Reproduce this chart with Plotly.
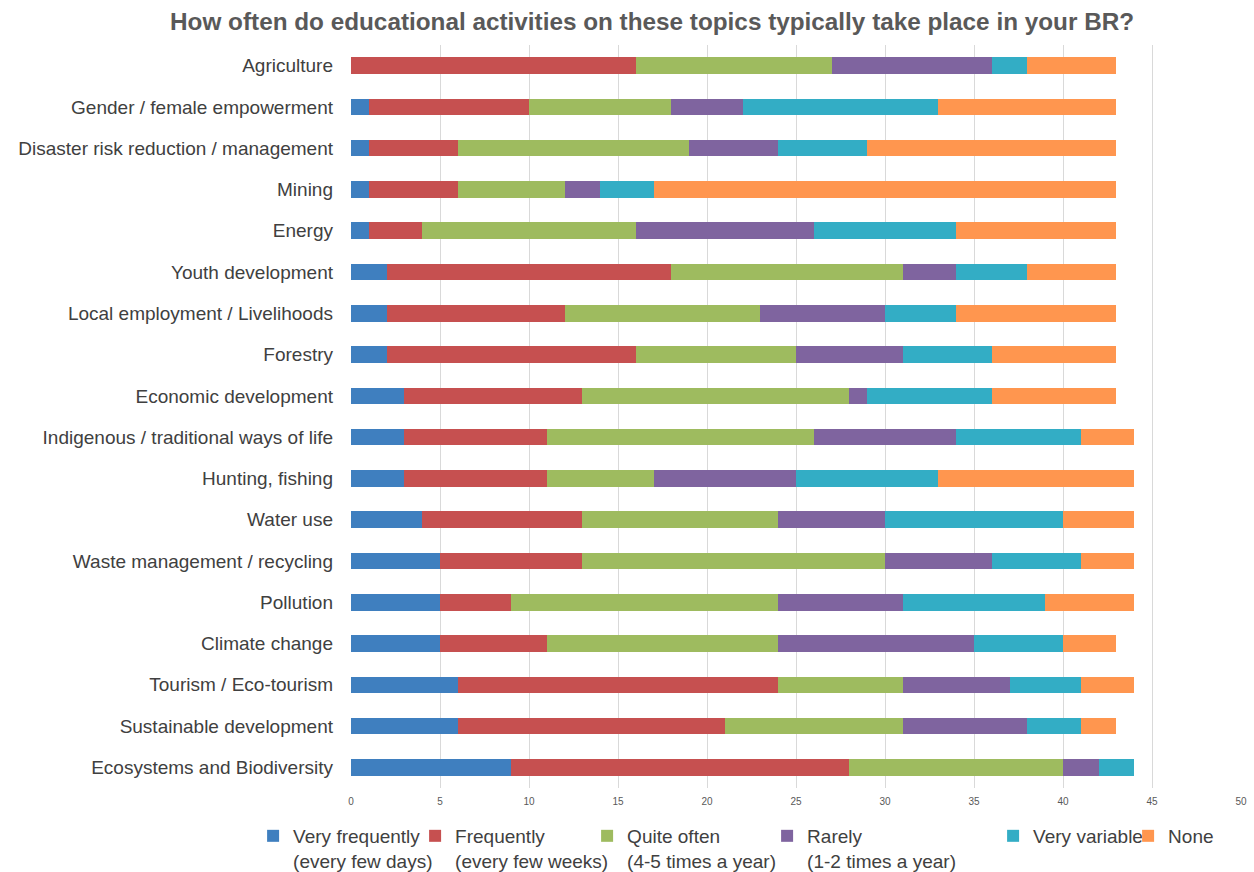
import plotly.graph_objects as go

categories = [
    "Agriculture", "Gender / female empowerment", "Disaster risk reduction / management",
    "Mining", "Energy", "Youth development", "Local employment / Livelihoods", "Forestry",
    "Economic development", "Indigenous / traditional ways of life", "Hunting, fishing",
    "Water use", "Waste management / recycling", "Pollution", "Climate change",
    "Tourism / Eco-tourism", "Sustainable development", "Ecosystems and Biodiversity",
]

very_frequently = [0, 1, 1, 1, 1, 2, 2, 2, 3, 3, 3, 4, 5, 5, 5, 6, 6, 9]
frequently      = [16, 9, 5, 5, 3, 16, 10, 14, 10, 8, 8, 9, 8, 4, 6, 18, 15, 19]
quite_often     = [11, 8, 13, 6, 12, 13, 11, 9, 15, 15, 6, 11, 17, 15, 13, 7, 10, 12]
rarely          = [9, 4, 5, 2, 10, 3, 7, 6, 1, 8, 8, 6, 6, 7, 11, 6, 7, 2]
very_variable   = [2, 11, 5, 3, 8, 4, 4, 5, 7, 7, 8, 10, 5, 8, 5, 4, 3, 2]
none            = [5, 10, 14, 26, 9, 5, 9, 7, 7, 3, 11, 4, 3, 5, 3, 3, 2, 0]

series_names = [
    "Very frequently<br>(every few days)",
    "Frequently<br>(every few weeks)",
    "Quite often<br>(4-5 times a year)",
    "Rarely<br>(1-2 times a year)",
    "Very variable",
    "None",
]
series_values = [very_frequently, frequently, quite_often, rarely, very_variable, none]
colors = ["#3F7FBF", "#C65050", "#9EBB5F", "#7F649F", "#33ADC5", "#FF964F"]
legend_widths = [117, 127, 135, 181, 90, 50]

fig = go.Figure()
for name, vals, col, lw in zip(series_names, series_values, colors, legend_widths):
    fig.add_trace(go.Bar(
        y=categories, x=vals, name=name, orientation="h",
        marker=dict(color=col, line=dict(width=0)),
        legendwidth=lw,
    ))

fig.update_layout(
    barmode="stack",
    bargap=0.6,
    width=1254, height=872,
    paper_bgcolor="white", plot_bgcolor="white",
    margin=dict(l=351, r=13, t=45, b=84, autoexpand=False),
    font=dict(family="Liberation Sans, Arial, sans-serif", color="#404040"),
    title=dict(
        text="<b>How often do educational activities on these topics typically take place in your BR?</b>",
        x=0.52, xanchor="center", y=0.975, yanchor="middle",
        font=dict(size=24.3, color="#595959"),
    ),
    xaxis=dict(
        range=[0, 50], dtick=5, tick0=0,
        showgrid=True, gridcolor="#D9D9D9", gridwidth=1,
        zeroline=False, showline=False, automargin=False,
        tickfont=dict(size=10, color="#595959"),
        ticks="", ticklabelstandoff=6,
    ),
    yaxis=dict(
        autorange="reversed", automargin=False,
        showgrid=False, zeroline=False, showline=False,
        tickfont=dict(size=19, color="#404040"),
        ticks="", ticklabelstandoff=17,
    ),
    legend=dict(
        orientation="h", x=-0.110, xanchor="left",
        y=-0.039, yanchor="top",
        bgcolor="rgba(0,0,0,0)",
        font=dict(size=19, color="#404040"),
        traceorder="normal", valign="top",
        itemwidth=30, tracegroupgap=0,
    ),
)

fig.write_html(
    "out.html",
    config={"displayModeBar": False},
    post_script="document.body.style.margin='0';document.body.style.overflow='hidden';",
)
